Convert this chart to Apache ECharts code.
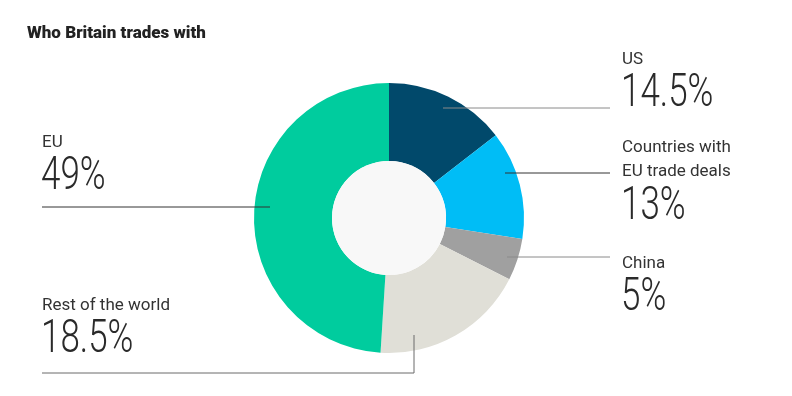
<!DOCTYPE html>
<html>
<head>
<meta charset="utf-8">
<script src="https://cdn.jsdelivr.net/npm/echarts@6/dist/echarts.min.js"></script>
<style>
html,body{margin:0;padding:0;background:#fff;}
#c{width:792px;height:396px;}
</style>
</head>
<body>
<div id="c"></div>
<script>
const categories = ['US', 'Countries with\nEU trade deals', 'China', 'Rest of the world', 'EU'];
const values = [14.5, 13, 5, 18.5, 49];
const colors = ['#01496b', '#00bdf6', '#a0a0a0', '#e0dfd7', '#00cc9e'];
const titleText = 'Who Britain trades with';

// name-label placement (top-left), value-text placement (left, vertical centre), leader-line routes
const labelPos = [[622, 48], [622, 136], [622, 252], [42, 294], [42, 131]];
const valuePos = [[621, 94], [621, 207], [621, 298], [41, 340], [41, 177]];
const linePts = [
  [[443, 108], [610, 108], [610, 108]],
  [[505, 173], [610, 173], [610, 173]],
  [[507, 257], [610, 257], [610, 257]],
  [[414, 335], [414, 373], [42, 373]],
  [[270, 207], [42, 207], [42, 207]]
];
const lineColors = ['#8a8a8a', '#333333', '#8a8a8a', '#6a6a6a', '#333333'];

const chart = echarts.init(document.getElementById('c'), null, {renderer: 'canvas'});
const center = [389, 218];

chart.setOption({
  animation: false,
  title: {
    text: titleText,
    left: 22, top: 20,
    textStyle: {fontFamily: 'Roboto', fontWeight: 900, fontSize: 17, color: '#222'}
  },
  graphic: values.map((v, i) => ({
    type: 'text',
    x: valuePos[i][0], y: valuePos[i][1],
    scaleX: 0.76,
    z: 100,
    style: {
      text: v + '%',
      font: '300 46px Roboto',
      fill: '#2a2a2a',
      textAlign: 'left',
      textVerticalAlign: 'middle'
    }
  })),
  series: [
    {
      type: 'pie',
      z: 2,
      center: center,
      radius: [57, 135],
      startAngle: 90,
      clockwise: true,
      silent: true,
      itemStyle: {borderWidth: 0},
      label: {show: false},
      labelLine: {show: false},
      data: categories.map((c, i) => ({name: c, value: values[i], itemStyle: {color: colors[i]}}))
    },
    {
      type: 'pie',
      z: 3,
      center: center,
      radius: [0, 57],
      silent: true,
      label: {show: false},
      labelLine: {show: false},
      data: [{value: 1, itemStyle: {color: '#f8f8f8'}}]
    },
    {
      type: 'pie',
      z: 5,
      center: center,
      radius: [57, 135],
      startAngle: 90,
      clockwise: true,
      silent: true,
      avoidLabelOverlap: false,
      itemStyle: {color: 'rgba(0,0,0,0)', borderWidth: 0},
      label: {
        show: true,
        position: 'outside',
        formatter: p => p.name.split('\n').map(s => '{n|' + s + '}').join('\n'),
        rich: {
          n: {fontFamily: 'Roboto', fontSize: 17, lineHeight: 24, color: '#333'}
        }
      },
      labelLine: {show: true, lineStyle: {width: 1}},
      labelLayout: function (params) {
        const i = params.dataIndex;
        return {
          x: labelPos[i][0], y: labelPos[i][1],
          align: 'left', verticalAlign: 'top',
          labelLinePoints: linePts[i]
        };
      },
      data: categories.map((c, i) => ({
        name: c, value: values[i],
        labelLine: {lineStyle: {color: lineColors[i], width: 1}}
      }))
    }
  ]
});
</script>
</body>
</html>
